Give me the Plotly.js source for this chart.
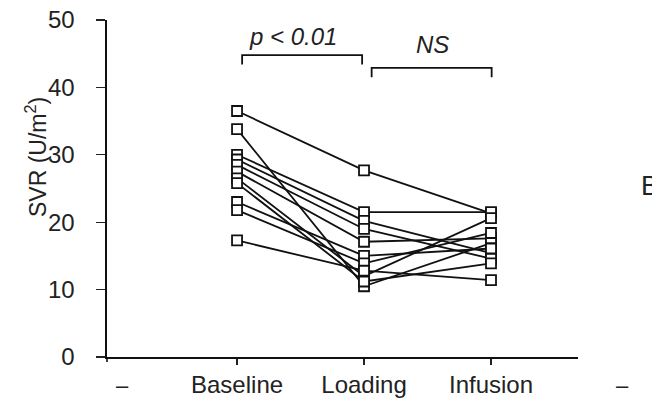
<!DOCTYPE html>
<html>
<head>
<meta charset="utf-8">
<script src="https://cdn.plot.ly/plotly-3.0.1.min.js"></script>
<style>html,body{margin:0;padding:0;background:#fff;}</style>
</head>
<body>
<div id="chart" style="width:652px;height:401px;"></div>
<script>
// Categories (x positions 1..3)
const categories = ["Baseline", "Loading", "Infusion"];
const categoryPos = [1, 2, 3];

// SVR (U/m²) per subject
const baseline = [36.5, 33.8, 30.0, 29.3, 28.5, 27.5, 26.5, 25.8, 23.0, 21.8, 17.3];
const loading  = [27.7, 10.5, 21.5, 20.2, 19.0, 17.1, 12.0, 11.2, 15.0, 13.9, 12.8];
const infusion = [21.3, 16.9, 21.5, 15.4, 14.6, 17.6, 20.6, 13.9, 16.1, 18.4, 11.4];

const traces = baseline.map((b, i) => ({
  type: "scatter",
  mode: "lines",
  x: categoryPos,
  y: [b, loading[i], infusion[i]],
  line: {color: "#111", width: 1.8},
  showlegend: false,
  hoverinfo: "skip"
}));

// open squares (white-filled) on top of the lines
traces.push(...baseline.map((b, i) => ({
  type: "scatter",
  mode: "markers",
  x: categoryPos,
  y: [b, loading[i], infusion[i]],
  marker: {symbol: "square", size: 10, color: "#fff", line: {width: 1.8, color: "#111"}},
  showlegend: false,
  hoverinfo: "skip"
})));

const fontFam = "Liberation Sans, Arial, sans-serif";

const layout = {
  width: 652, height: 401,
  margin: {l: 107, r: 74, t: 20, b: 44},
  paper_bgcolor: "#fff", plot_bgcolor: "#fff",
  font: {family: fontFam, size: 23, color: "#222"},
  xaxis: {
    range: [-0.024, 3.685],
    tickvals: categoryPos, ticktext: categories,
    ticks: "outside", ticklen: 6, tickwidth: 1.2, tickcolor: "#222",
    showline: true, linecolor: "#111", linewidth: 1.6,
    showgrid: false, zeroline: false, fixedrange: true,
    tickfont: {size: 24, color: "#222"}
  },
  yaxis: {
    range: [0, 50],
    tickvals: [0, 10, 20, 30, 40, 50],
    ticks: "outside", ticklen: 9, tickwidth: 1.2, tickcolor: "#222",
    ticklabelstandoff: 17,
    showline: true, linecolor: "#111", linewidth: 1.6,
    showgrid: false, zeroline: false, fixedrange: true,
    tickfont: {size: 24, color: "#222"}
  },
  shapes: [
    {type: "path", xref: "x", yref: "y", path: "M 1.04 43.4 L 1.04 44.8 L 1.985 44.8 L 1.985 43.4",
     line: {color: "#111", width: 1.8}},
    {type: "path", xref: "x", yref: "y", path: "M 2.06 41.5 L 2.06 42.9 L 3.005 42.9 L 3.005 41.5",
     line: {color: "#111", width: 1.8}},
    {type: "line", xref: "paper", yref: "paper", x0: 0, x1: 0, y0: 0, y1: -0.015,
     line: {color: "#111", width: 1.6}}
  ],
  annotations: [
    {text: "p < 0.01", xref: "x", yref: "paper", x: 1.44, y: (357-37)/337, showarrow: false,
     font: {size: 24, color: "#222", family: fontFam, style: "italic"}, xanchor: "center", yanchor: "middle"},
    {text: "NS", xref: "x", yref: "paper", x: 2.54, y: (357-44)/337, showarrow: false,
     font: {size: 24, color: "#222", family: fontFam, style: "italic"}, xanchor: "center", yanchor: "middle"},
    {text: "SVR (U/m<sup>2</sup>)", xref: "paper", yref: "paper", x: (36-107)/471, y: (357-157)/337,
     textangle: -90, showarrow: false, font: {size: 23, color: "#222"}, xanchor: "center", yanchor: "middle"},
    {text: "–", xref: "paper", yref: "paper", x: (122-107)/471, y: (357-385)/337, showarrow: false,
     font: {size: 22, color: "#222"}, xanchor: "center", yanchor: "middle"},
    {text: "–", xref: "paper", yref: "paper", x: (622-107)/471, y: (357-385)/337, showarrow: false,
     font: {size: 22, color: "#222"}, xanchor: "center", yanchor: "middle"},
    {text: "B", xref: "paper", yref: "paper", x: (639-107)/471, y: (357-186)/337, showarrow: false,
     font: {size: 27, color: "#222"}, xanchor: "left", yanchor: "middle"}
  ]
};

Plotly.newPlot("chart", traces, layout, {staticPlot: true, displayModeBar: false});
</script>
</body>
</html>
